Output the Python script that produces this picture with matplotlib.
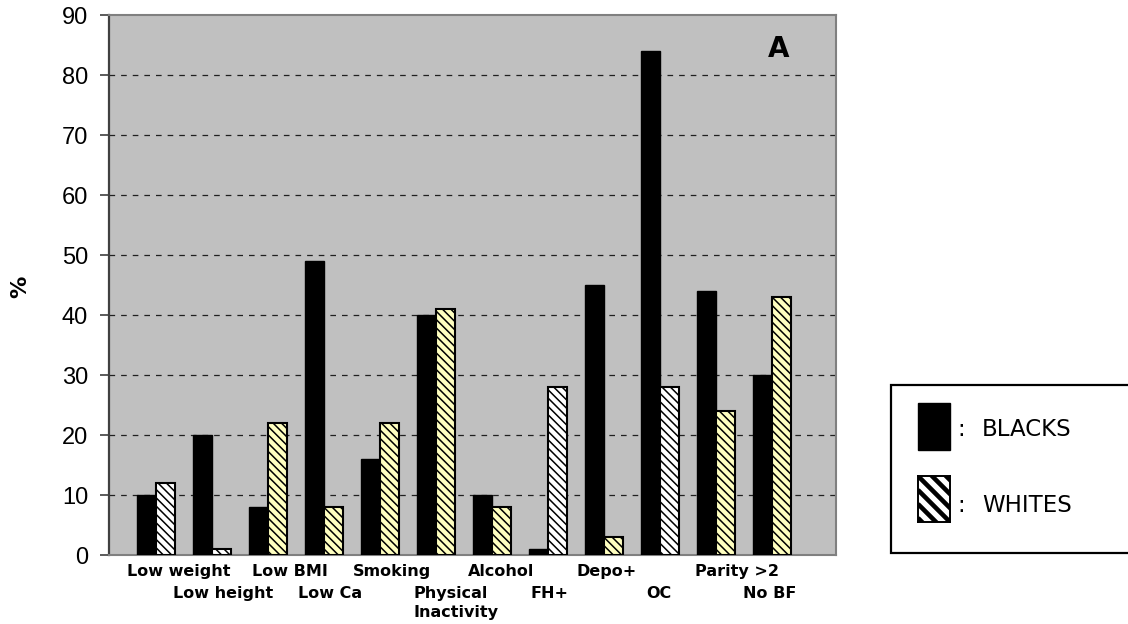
import matplotlib
matplotlib.use('Agg')
import matplotlib.pyplot as plt
import matplotlib.transforms as mtransforms
from matplotlib.patches import Rectangle
import numpy as np

# ---- data ----
categories = ["Low weight", "Low height", "Low BMI", "Low Ca", "Smoking",
              "Physical\nInactivity", "Alcohol", "FH+", "Depo+", "OC",
              "Parity >2", "No BF"]
blacks = [10, 20, 8, 49, 16, 40, 10, 1, 45, 84, 44, 30]
whites = [12, 1, 22, 8, 22, 41, 8, 28, 3, 28, 24, 43]
yticks = list(range(0, 91, 10))

# ---- styles ----
YEL = '#FFFFC0'
white_fill = ['white', 'white', YEL, YEL, YEL, YEL, YEL, 'white', YEL, 'white', YEL, YEL]
label_dx_px = [23, 11, 22, 6, 12, 20, 9, 2, 3, -1, 21, -2]

W, H = 1128, 624
fig = plt.figure(figsize=(W / 100, H / 100), dpi=100)
fig.patch.set_facecolor('white')

def fx(px):
    return px / W

def fy(py):
    return 1 - py / H

ax = fig.add_axes([fx(109), fy(555), fx(836) - fx(109), fy(15) - fy(555)])
ax.set_facecolor('#C0C0C0')

x = np.arange(len(categories))
bw = 0.34
ax.bar(x - bw / 2, blacks, width=bw, color='black', edgecolor='black',
       linewidth=1.0, zorder=3)
plt.rcParams['hatch.linewidth'] = 1.1
ax.bar(x + bw / 2, whites, width=bw, color=white_fill, edgecolor='black',
       linewidth=1.5, hatch='\\\\\\\\', zorder=3)

ax.set_xlim((109 - 156) / 56, (836 - 156) / 56)
ax.set_ylim(0, 90)
ax.set_yticks(yticks)
ax.set_yticklabels([str(v) for v in yticks], fontsize=17,
                   family='Liberation Sans')
ax.tick_params(axis='y', direction='out', length=6.5, width=1.2,
               color='#404040', pad=8.6)
ax.set_xticks([])

ax.set_axisbelow(True)
ax.yaxis.grid(True, color='#202020', linewidth=0.9, linestyle=(0, (4.5, 4.8)))
glines = ax.get_ygridlines()
glines[0].set_visible(False)
glines[-1].set_visible(False)

ax.spines['left'].set_color('#404040')
ax.spines['left'].set_linewidth(1.6)
for s in ['top', 'right', 'bottom']:
    ax.spines[s].set_color('#808080')
    ax.spines[s].set_linewidth(1.5)

# category labels, staggered in two rows
base = mtransforms.blended_transform_factory(ax.transData, ax.transAxes)
for i, lab in enumerate(categories):
    dy_px = 9 if i % 2 == 0 else 31
    tr = base + mtransforms.ScaledTranslation(label_dx_px[i] * 0.72 / 72,
                                              -dy_px * 0.72 / 72,
                                              fig.dpi_scale_trans)
    ax.text(i, 0, lab, transform=tr, ha='center', va='top',
            multialignment='left', fontsize=11.5, fontweight='bold',
            family='DejaVu Sans', linespacing=1.3, clip_on=False)

# y-axis label
fig.text(fx(20), fy(287), '%', rotation=90, fontsize=16, fontweight='bold',
         ha='center', va='center', family='DejaVu Sans')

# panel letter
fig.text(fx(779), fy(57), 'A', fontsize=20, fontweight='bold',
         ha='center', va='baseline', family='DejaVu Sans')

# ---- legend box ----
fig.patches.append(Rectangle((fx(891), fy(553)), fx(1140) - fx(891),
                             fy(385) - fy(553), transform=fig.transFigure,
                             facecolor='white', edgecolor='black',
                             linewidth=1.6, clip_on=False, zorder=1))
fig.patches.append(Rectangle((fx(918), fy(450)), fx(950) - fx(918),
                             fy(403) - fy(450), transform=fig.transFigure,
                             facecolor='black', edgecolor='black',
                             linewidth=1.0, zorder=2))
# hatched legend swatch
lax = fig.add_axes([fx(918), fy(522), fx(950) - fx(918), fy(476) - fy(522)])
lax.set_zorder(5)
lax.set_xlim(0, 32)
lax.set_ylim(0, 46)
lax.set_facecolor('white')
for c in np.arange(-10, 90, 14):
    lax.plot([0, 60], [c, c - 60], color='black', linewidth=3.3,
             solid_capstyle='butt')
lax.set_xticks([])
lax.set_yticks([])
for s in lax.spines.values():
    s.set_color('black')
    s.set_linewidth(1.4)

for txt, ybase in [('BLACKS', 436), ('WHITES', 512)]:
    fig.text(fx(957), fy(ybase), ':', fontsize=16.5, ha='left',
             va='baseline', family='DejaVu Sans', zorder=3)
    fig.text(fx(982), fy(ybase), txt, fontsize=16.5, ha='left',
             va='baseline', family='DejaVu Sans', zorder=3)

fig.savefig('out.png', dpi=100)
